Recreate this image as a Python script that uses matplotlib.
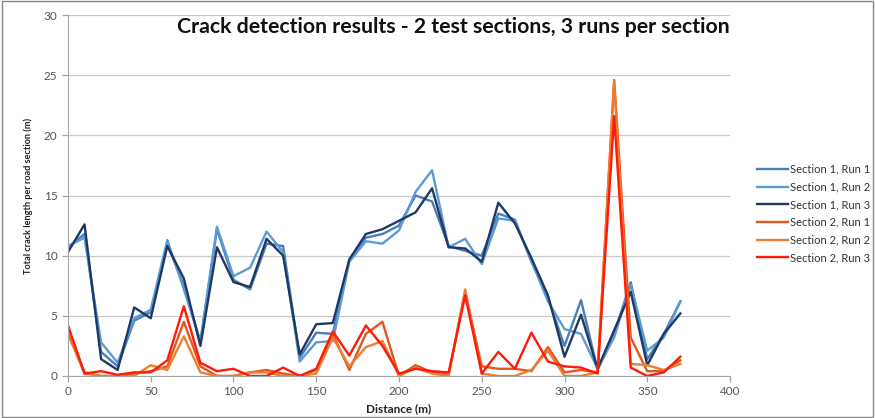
import matplotlib
matplotlib.use("Agg")
import matplotlib.pyplot as plt
from matplotlib.patches import Rectangle

distance = list(range(0, 380, 10))

s1_run1 = [10.7, 11.8, 2.0, 0.8, 4.6, 5.3, 11.0, 7.5, 2.8, 12.2, 8.0, 7.2, 11.0, 10.8, 1.5, 3.6, 3.5, 9.6, 11.5, 11.8,
           12.5, 15.0, 14.5, 10.8, 10.4, 10.0, 13.5, 13.0, 9.5, 6.5, 2.5, 6.3, 0.5, 3.5, 7.8, 1.4, 3.5, 6.2]
s1_run2 = [10.8, 11.5, 2.8, 1.1, 4.8, 5.5, 11.3, 7.2, 2.9, 12.4, 8.3, 9.0, 12.0, 10.3, 1.2, 2.8, 2.9, 9.5, 11.2, 11.0,
           12.1, 15.3, 17.1, 10.7, 11.4, 9.3, 13.1, 12.9, 9.6, 6.2, 3.9, 3.5, 0.6, 3.2, 7.6, 2.1, 3.2, 6.2]
s1_run3 = [10.3, 12.6, 1.4, 0.5, 5.7, 4.8, 10.8, 8.1, 2.5, 10.7, 7.8, 7.4, 11.4, 10.0, 1.8, 4.3, 4.4, 9.7, 11.8, 12.2,
           12.9, 13.6, 15.6, 10.7, 10.6, 9.5, 14.4, 12.7, 9.8, 6.7, 1.6, 5.1, 0.6, 3.8, 7.0, 0.9, 3.5, 5.2]
s2_run1 = [3.6, 0.3, 0.0, 0.0, 0.2, 0.4, 0.8, 4.5, 0.8, 0.0, 0.0, 0.3, 0.5, 0.2, 0.0, 0.5, 3.5, 0.5, 3.5, 4.5,
           0.0, 0.9, 0.3, 0.1, 7.0, 0.8, 0.6, 0.6, 0.4, 2.4, 0.3, 0.5, 0.3, 24.6, 3.2, 0.4, 0.4, 1.3]
s2_run2 = [3.5, 0.2, 0.0, 0.0, 0.0, 0.9, 0.5, 3.3, 0.3, 0.0, 0.0, 0.3, 0.3, 0.0, 0.0, 0.2, 3.2, 0.8, 2.4, 2.9,
           0.0, 0.7, 0.2, 0.0, 7.2, 0.2, 0.0, 0.0, 0.5, 2.1, 0.0, 0.0, 0.3, 24.5, 1.0, 0.9, 0.5, 1.0]
s2_run3 = [4.2, 0.2, 0.4, 0.1, 0.3, 0.3, 1.3, 5.8, 1.1, 0.4, 0.6, 0.0, 0.0, 0.7, 0.0, 0.6, 3.7, 1.7, 4.2, 2.5,
           0.2, 0.6, 0.4, 0.3, 6.7, 0.2, 2.0, 0.6, 3.6, 1.2, 0.8, 0.7, 0.2, 21.6, 0.7, 0.0, 0.3, 1.6]

series = [
    ("Section 1, Run 1", s1_run1, "#4a7ebb"),
    ("Section 1, Run 2", s1_run2, "#5b9bd5"),
    ("Section 1, Run 3", s1_run3, "#1f3864"),
    ("Section 2, Run 1", s2_run1, "#e2571e"),
    ("Section 2, Run 2", s2_run2, "#ed7d31"),
    ("Section 2, Run 3", s2_run3, "#ff1a0a"),
]

plt.rcParams['font.family'] = ['Lato', 'DejaVu Sans']

fig = plt.figure(figsize=(8.75, 4.18), dpi=100)
fig.patches.append(Rectangle((0.002, 0.003), 0.996, 0.994, transform=fig.transFigure,
                             fill=False, edgecolor='#888888', linewidth=1.0))
ax = fig.add_axes([0.0777, 0.1005, 0.7566, 0.8635])

for name, vals, col in series:
    ax.plot(distance, vals, color=col, linewidth=1.7, label=name)

ax.set_xlim(0, 400)
ax.set_ylim(0, 30)
ax.set_xticks(range(0, 401, 50))
ax.set_yticks(range(0, 31, 5))
ax.grid(axis='y', color='#c8c8c8', linewidth=0.9)
ax.set_axisbelow(True)
for s in ['top', 'right']:
    ax.spines[s].set_visible(False)
for s in ['left', 'bottom']:
    ax.spines[s].set_color('#a6a6a6')
ax.tick_params(colors='#a6a6a6', labelcolor='#555555', labelsize=8.5, length=4, width=0.9)

ax.set_xlabel('Distance (m)', fontsize=8.5, fontweight='bold', color='#222222', labelpad=4)
ax.set_ylabel('Total crack length per road section (m)', fontsize=6.6, fontweight='bold',
              color='#222222', labelpad=8)

ax.text(1.0, 0.995, 'Crack detection results - 2 test sections, 3 runs per section',
        transform=ax.transAxes, ha='right', va='top', fontsize=15.3, fontweight='bold', color='#111111')

ax.legend(loc='center left', bbox_to_anchor=(1.025, 0.45), frameon=False, fontsize=8,
          handlelength=2.8, handletextpad=0.2, labelspacing=0.6, labelcolor='#333333')

fig.savefig('out.png', dpi=100)
